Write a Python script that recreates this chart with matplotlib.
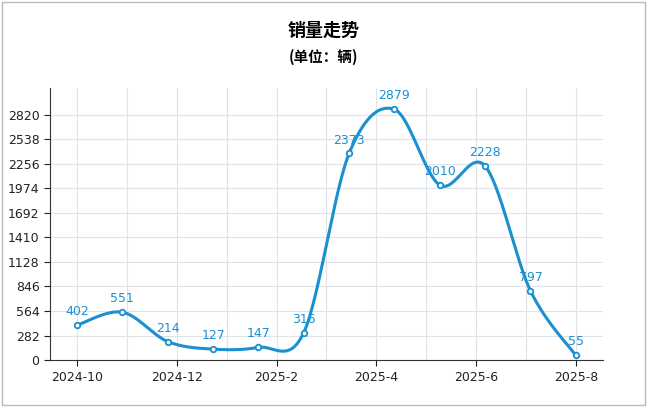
import matplotlib
matplotlib.use("Agg")
import matplotlib.pyplot as plt
import numpy as np
from matplotlib.patches import Rectangle

plt.rcParams['font.family'] = ['Noto Sans CJK SC', 'DejaVu Sans']

values = [402, 551, 214, 127, 147, 316, 2373, 2879, 2010, 2228, 797, 55]
tick_labels = ["2024-10", "2024-12", "2025-2", "2025-4", "2025-6", "2025-8"]
y_ticks = [0, 282, 564, 846, 1128, 1410, 1692, 1974, 2256, 2538, 2820]

color = "#1a8fd1"
fig = plt.figure(figsize=(6.47, 4.07), dpi=100)
fig.patches.append(Rectangle((0.003, 0.005), 0.994, 0.99, transform=fig.transFigure,
                             fill=False, edgecolor="#bbbbbb", linewidth=1))
ax = fig.add_axes([0.077, 0.115, 0.855, 0.67])
x = np.arange(len(values))
y = np.array(values, float)

# Catmull-Rom smoothing for rendering
xs, ys = [], []
P = np.column_stack([x, y])
Pe = np.vstack([P[0], P, P[-1]])
for i in range(1, len(Pe) - 2):
    p0, p1, p2, p3 = Pe[i-1], Pe[i], Pe[i+1], Pe[i+2]
    for t in np.linspace(0, 1, 30, endpoint=False):
        t2, t3 = t*t, t*t*t
        pt = 0.5*((2*p1) + (-p0+p2)*t + (2*p0-5*p1+4*p2-p3)*t2 + (-p0+3*p1-3*p2+p3)*t3)
        xs.append(pt[0]); ys.append(pt[1])
xs.append(P[-1, 0]); ys.append(P[-1, 1])
ax.plot(xs, ys, color=color, lw=2.2, zorder=3)
ax.plot(x, y, 'o', ms=4, mfc='white', mec=color, mew=1.3, zorder=4)
for xi, v in zip(x, values):
    ax.annotate(str(v), (xi, v), xytext=(0, 5), textcoords='offset points',
                ha='center', va='bottom', color=color, fontsize=9, fontfamily='DejaVu Sans')

span = len(values) - 1
tpos = np.linspace(0, span, len(tick_labels))
ax.set_xticks(tpos)
ax.set_xticklabels(tick_labels, fontsize=9, fontfamily='DejaVu Sans')
ax.set_xticks((tpos[:-1] + tpos[1:]) / 2, minor=True)
ax.set_yticks(y_ticks)
ax.set_yticklabels([str(t) for t in y_ticks], fontsize=9, fontfamily='DejaVu Sans')
ax.set_xlim(-0.6, span + 0.6)
ax.set_ylim(0, 3130)
ax.grid(True, which='both', color='#dde3e8', lw=0.8)
ax.set_axisbelow(True)
for s in ['top', 'right']:
    ax.spines[s].set_visible(False)
ax.spines['left'].set_color('#333')
ax.spines['bottom'].set_color('#333')
ax.tick_params(which='minor', length=0)
ax.tick_params(length=4, colors='#222')

fig.text(0.5, 0.925, "销量走势", ha='center', va='center', fontsize=13, fontweight='bold')
fig.text(0.5, 0.86, "(单位：辆)", ha='center', va='center', fontsize=10.5, fontweight='bold')
fig.savefig("out.png", dpi=100)
